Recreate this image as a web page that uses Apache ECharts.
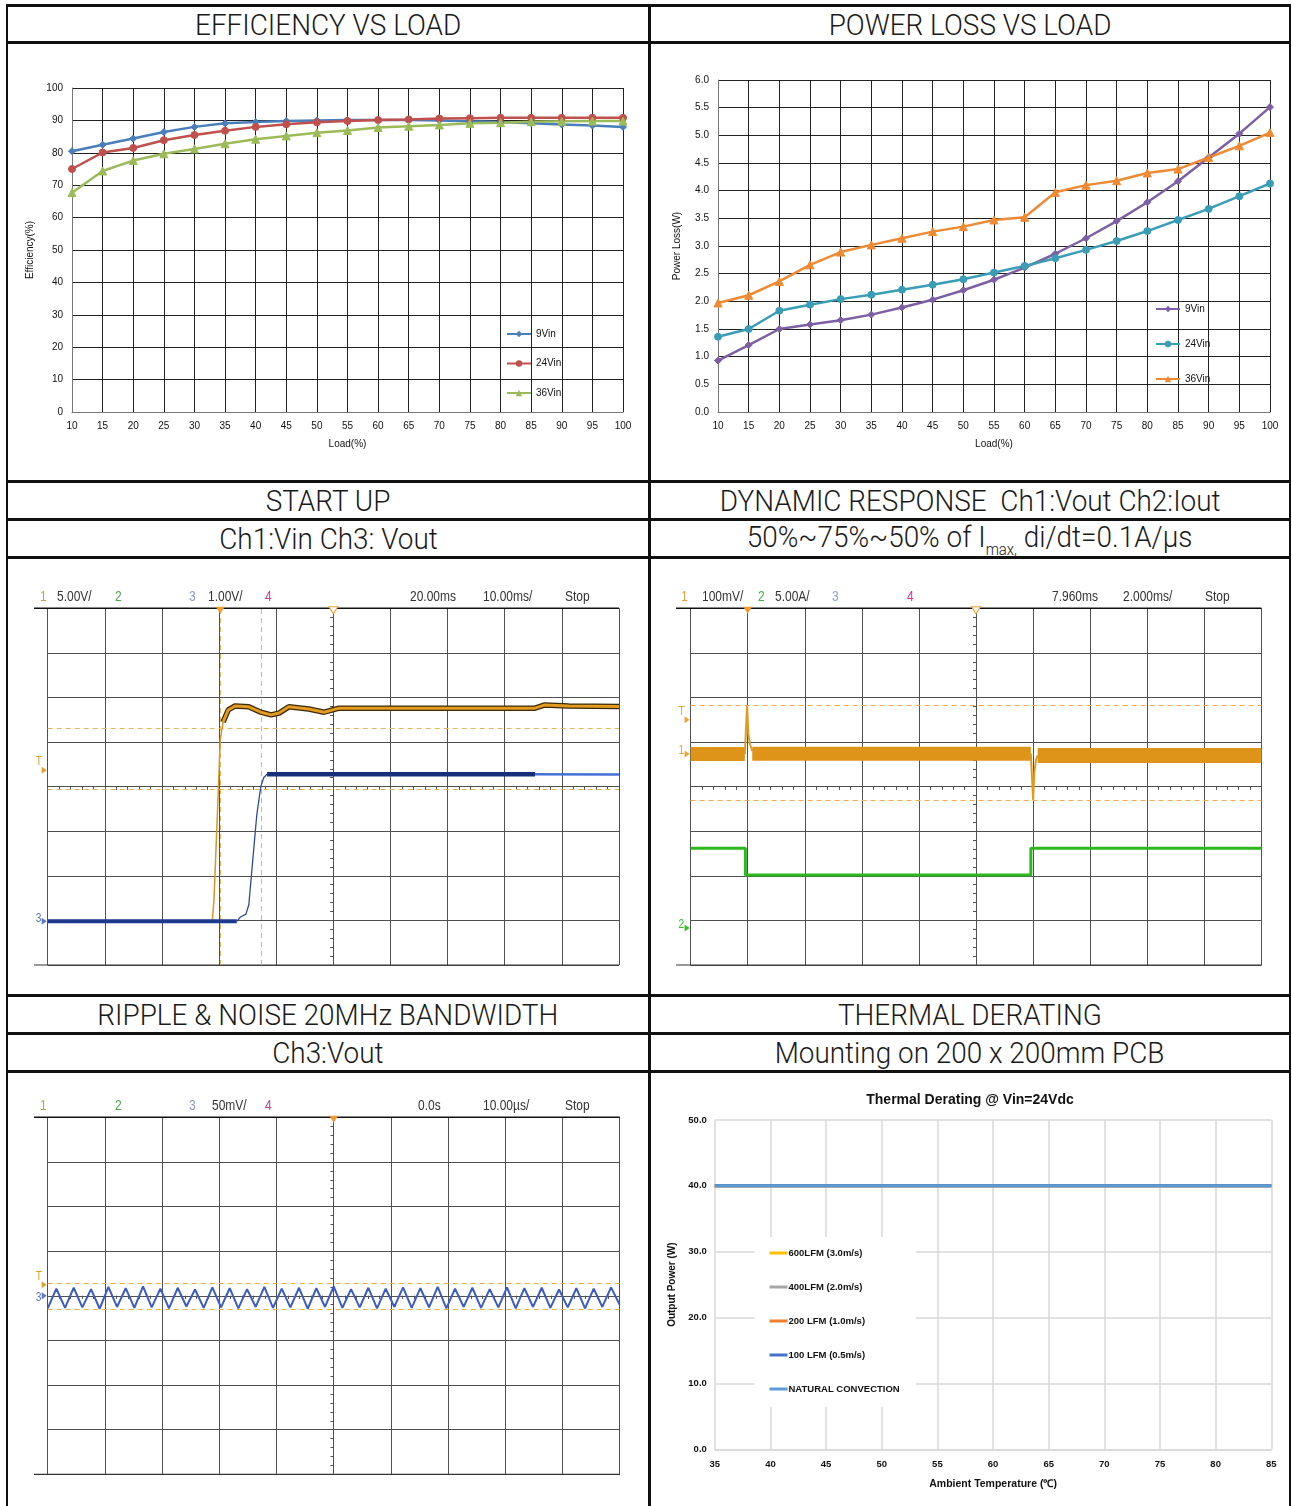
<!DOCTYPE html>
<html><head><meta charset="utf-8">
<script src="https://cdn.jsdelivr.net/npm/echarts@6/dist/echarts.min.js"></script>
<style>
html,body{margin:0;padding:0;background:#fff;}
#page{position:relative;width:1292px;height:1506px;overflow:hidden;background:#fff;}
.ln{position:absolute;background:#111;}
.hdr{position:absolute;display:flex;align-items:center;justify-content:center;font-family:Roboto,"Liberation Sans",sans-serif;font-weight:300;font-size:30px;color:#1a1a1a;white-space:nowrap;}
.hdr span{display:inline-block;transform:scaleX(0.93);transform-origin:50% 50%;}
.hdr sub{font-size:16px;vertical-align:-8px;}
.ch{position:absolute;}
</style></head><body>
<div id="page">
  <div class="ln" style="left:6px;top:4px;width:1285px;height:3px"></div>
  <div class="ln" style="left:6px;top:41px;width:1285px;height:3px"></div>
  <div class="ln" style="left:6px;top:480px;width:1285px;height:3px"></div>
  <div class="ln" style="left:6px;top:518px;width:1285px;height:3px"></div>
  <div class="ln" style="left:6px;top:556px;width:1285px;height:3px"></div>
  <div class="ln" style="left:6px;top:994px;width:1285px;height:3px"></div>
  <div class="ln" style="left:6px;top:1032px;width:1285px;height:3px"></div>
  <div class="ln" style="left:6px;top:1070px;width:1285px;height:3px"></div>
  <div class="ln" style="left:6px;top:4px;width:2px;height:1502px"></div>
  <div class="ln" style="left:648px;top:4px;width:3px;height:1502px"></div>
  <div class="ln" style="left:1289px;top:4px;width:2px;height:1502px"></div>

  <div class="hdr" style="left:8px;top:7px;width:640px;height:34px"><span>EFFICIENCY VS LOAD</span></div>
  <div class="hdr" style="left:651px;top:7px;width:638px;height:34px"><span>POWER LOSS VS LOAD</span></div>
  <div class="hdr" style="left:8px;top:483px;width:640px;height:35px"><span>START UP</span></div>
  <div class="hdr" style="left:651px;top:483px;width:638px;height:35px"><span>DYNAMIC RESPONSE&nbsp; Ch1:Vout Ch2:Iout</span></div>
  <div class="hdr" style="left:8px;top:521px;width:640px;height:35px"><span>Ch1:Vin Ch3: Vout</span></div>
  <div class="hdr" style="left:651px;top:521px;width:638px;height:35px"><span>50%~75%~50% of I<sub>max,</sub> di/dt=0.1A/μs</span></div>
  <div class="hdr" style="left:8px;top:997px;width:640px;height:35px"><span>RIPPLE &amp; NOISE 20MHz BANDWIDTH</span></div>
  <div class="hdr" style="left:651px;top:997px;width:638px;height:35px"><span>THERMAL DERATING</span></div>
  <div class="hdr" style="left:8px;top:1035px;width:640px;height:35px"><span>Ch3:Vout</span></div>
  <div class="hdr" style="left:651px;top:1035px;width:638px;height:35px"><span>Mounting on 200 x 200mm PCB</span></div>

  <div class="ch" id="c1" style="left:8px;top:44px;width:640px;height:436px"></div>
  <div class="ch" id="c2" style="left:651px;top:44px;width:638px;height:436px"></div>
  <div class="ch" id="c3" style="left:8px;top:559px;width:640px;height:435px"></div>
  <div class="ch" id="c4" style="left:651px;top:559px;width:638px;height:435px"></div>
  <div class="ch" id="c5" style="left:8px;top:1073px;width:640px;height:433px"></div>
  <div class="ch" id="c6" style="left:651px;top:1073px;width:638px;height:433px"></div>
</div>
<script>
// ---------------- DATA ----------------
const loadPct = [10,15,20,25,30,35,40,45,50,55,60,65,70,75,80,85,90,95,100];
const eff9Vin  = [80.5,82.5,84.4,86.4,88.0,89.1,89.5,89.8,90.0,90.1,90.1,90.1,90.0,89.7,89.5,89.1,88.7,88.4,88.0];
const eff24Vin = [75.0,80.1,81.5,83.9,85.5,86.8,88.0,88.8,89.4,89.8,90.1,90.3,90.6,90.7,90.8,90.8,90.8,90.8,90.8];
const eff36Vin = [67.7,74.4,77.6,79.7,81.2,82.8,84.2,85.2,86.2,86.9,87.8,88.2,88.6,89.1,89.3,89.6,89.7,89.8,89.8];

const loss9Vin  = [0.93,1.21,1.50,1.58,1.66,1.76,1.89,2.03,2.20,2.39,2.61,2.86,3.14,3.45,3.79,4.17,4.60,5.03,5.51];
const loss24Vin = [1.36,1.50,1.83,1.94,2.04,2.12,2.21,2.30,2.40,2.52,2.64,2.78,2.93,3.09,3.27,3.47,3.67,3.90,4.13];
const loss36Vin = [1.97,2.11,2.36,2.66,2.89,3.02,3.14,3.26,3.35,3.47,3.52,3.97,4.10,4.18,4.32,4.39,4.60,4.81,5.05];

// Start-up scope traces (x, y in screen divisions from centre)
const suCh1Rise = [[-5,-3.02],[-2.12,-3.02],[-2.09,-2.55],[-2.02,-0.30],[-1.98,1.05],[-1.93,1.45]];
const suCh1High = [[-1.93,1.45],[-1.84,1.72],[-1.72,1.81],[-1.48,1.79],[-1.27,1.67],[-1.09,1.61],[-0.95,1.65],[-0.78,1.79],[-0.43,1.74],[-0.16,1.67],[0.10,1.76],[1.15,1.76],[3.53,1.76],[3.69,1.83],[4.12,1.81],[5,1.80]];
const suCh3Low  = [[-5,-3.02],[-1.69,-3.02]];
const suCh3Ramp = [[-1.69,-3.02],[-1.63,-2.93],[-1.53,-2.86],[-1.48,-2.65],[-1.41,-1.64],[-1.34,-0.63],[-1.27,0.0],[-1.22,0.20],[-1.16,0.28]];
const suCh3High = [[-1.16,0.28],[3.53,0.28]];
const suCh3Tail = [[3.53,0.28],[5,0.27]];
const suCursorX = [-1.98,-1.27];
const suCursorY = [1.32,-0.06];
const suTrigger = -1.98;
const suHeader = [['1',32,'#C8A040'],['5.00V/',49,'#333'],['2',107,'#4CA64C'],['3',181,'#8A9AC0'],['1.00V/',200,'#333'],['4',257,'#C0409A'],['20.00ms',402,'#333'],['10.00ms/',475,'#333'],['Stop',557,'#333']];

// Dynamic response traces
const drCh1A   = [[-5,0.73],[-4.05,0.73]];
const drSpike  = [[-4.05,0.73],[-4.03,1.30],[-4.01,1.82],[-3.99,1.20],[-3.96,0.95],[-3.92,0.80]];
const drCh1B   = [[-3.92,0.74],[0.96,0.74]];
const drDip    = [[0.96,0.74],[0.98,0.20],[1.00,-0.30],[1.02,0.30],[1.05,0.60],[1.08,0.70]];
const drCh1C   = [[1.08,0.70],[5,0.70]];
const drCh2    = [[-5,-1.38],[-4.04,-1.38],[-4.04,-1.98],[0.96,-1.98],[0.96,-1.38],[5,-1.38]];
const drCursorY = [1.82,-0.30];
const drTrigger = -4.0;
const drHeader = [['1',30,'#F0A040'],['100mV/',51,'#333'],['2',107,'#3CB83C'],['5.00A/',124,'#333'],['3',181,'#8AA0E0'],['4',256,'#E0309A'],['7.960ms',401,'#333'],['2.000ms/',472,'#333'],['Stop',554,'#333']];

// Ripple trace (alternating troughs / peaks across the screen, divisions)
const rippleCh3 = [-0.28,0.16,-0.27,0.18,-0.26,0.15,-0.29,0.20,-0.25,0.17,-0.27,0.21,-0.26,0.16,-0.28,0.18,-0.24,0.14,-0.27,0.19,-0.26,0.17,-0.28,0.15,-0.25,0.20,-0.27,0.16,-0.26,0.18,-0.29,0.17,-0.25,0.21,-0.27,0.15,-0.26,0.18,-0.28,0.16,-0.25,0.19,-0.27,0.17,-0.26,0.20,-0.28,0.16,-0.25,0.18,-0.27,0.15,-0.26,0.19,-0.28,0.17,-0.25,0.18,-0.27,0.14,-0.26,0.17,-0.28,0.16,-0.25,0.19,-0.20];
const rpCursorY = [0.28,-0.30];
const rpTrigger = 0;
const rpHeader = [['1',32,'#C8A040'],['2',107,'#4CA64C'],['3',181,'#8A9AC0'],['50mV/',204,'#333'],['4',257,'#C0409A'],['0.0s',410,'#333'],['10.00µs/',475,'#333'],['Stop',557,'#333']];

// Thermal derating
const tempC = [35,40,45,50,55,60,65,70,75,80,85];
const p600LFM = [40,40,40,40,40,40,40,40,40,40,40];
const p400LFM = [40,40,40,40,40,40,40,40,40,40,40];
const p200LFM = [40,40,40,40,40,40,40,40,40,40,40];
const p100LFM = [40,40,40,40,40,40,40,40,40,40,40];
const pNatural = [40,40,40,40,40,40,40,40,40,40,40];

// ---------------- EXCEL-STYLE CHARTS ----------------
const XF = '"Liberation Sans", Arial, sans-serif';
function excelChart(el, opt) {
  const c = echarts.init(document.getElementById(el), null, {renderer:'canvas'});
  c.setOption(opt);
  return c;
}
function lineSeries(name, data, color, symbol, size) {
  return {name, type:'line', data, symbol, symbolSize:size, showSymbol:true,
    lineStyle:{color, width:2.5}, itemStyle:{color, borderColor:color}, z:3};
}
function excelAxes(yMin, yMax, yInt, yName, yGap, fmt) {
  return {
    xAxis:{type:'category', data:loadPct, boundaryGap:false,
      axisLine:{show:true, lineStyle:{color:'#777'}}, axisTick:{show:false},
      axisLabel:{color:'#111', fontSize:10, margin:9, fontFamily:XF},
      splitLine:{show:true, lineStyle:{color:'#222', width:1}},
      name:'Load(%)', nameLocation:'middle', nameGap:27,
      nameTextStyle:{fontSize:10, color:'#111', fontFamily:XF}},
    yAxis:{type:'value', min:yMin, max:yMax, interval:yInt,
      axisLine:{show:true, lineStyle:{color:'#777'}}, axisTick:{show:false},
      axisLabel:{color:'#111', fontSize:10, margin:9, fontFamily:XF, formatter:fmt},
      splitLine:{show:true, lineStyle:{color:'#222', width:1}},
      name:yName, nameLocation:'middle', nameGap:yGap,
      nameTextStyle:{fontSize:10, color:'#111', fontFamily:XF}}
  };
}

excelChart('c1', Object.assign({
  animation:false,
  grid:{left:64, top:44, width:551, height:324, outerBoundsMode:'none'},
  legend:{orient:'vertical', left:493, top:280, itemWidth:24, itemHeight:8, itemGap:19.5,
    textStyle:{fontSize:10, color:'#111', fontFamily:XF}, data:['9Vin','24Vin','36Vin']},
  series:[
    lineSeries('9Vin', eff9Vin, '#4A7EBB', 'diamond', 7),
    lineSeries('24Vin', eff24Vin, '#C0504D', 'circle', 7),
    lineSeries('36Vin', eff36Vin, '#9BBB59', 'triangle', 8)
  ]
}, excelAxes(0, 100, 10, 'Efficiency(%)', 32, v => v)));

excelChart('c2', Object.assign({
  animation:false,
  grid:{left:67, top:36, width:552, height:332, outerBoundsMode:'none'},
  legend:{orient:'vertical', left:499, top:255, itemWidth:24, itemHeight:8, itemGap:25,
    textStyle:{fontSize:10, color:'#111', fontFamily:XF}, data:['9Vin','24Vin','36Vin']},
  series:[
    lineSeries('9Vin', loss9Vin, '#7D5FA3', 'diamond', 7),
    lineSeries('24Vin', loss24Vin, '#3A9DB6', 'circle', 7),
    lineSeries('36Vin', loss36Vin, '#EE8A34', 'triangle', 8)
  ]
}, excelAxes(0, 6, 0.5, 'Power Loss(W)', 36, v => v.toFixed(1))));

// ---------------- SCOPE CHARTS ----------------
const GRIDC = '#505050';
const SF = '"Liberation Sans", sans-serif';
function scopeBase(g, catLen) {
  const idx = [];
  for (let i = 0; i < catLen; i++) idx.push(String(i));
  return {
    animation:false,
    grid:{left:g.left, top:g.top, width:g.w, height:g.h, show:false, outerBoundsMode:'none'},
    xAxis:[
      {type:'value', min:-5, max:5, interval:1, axisLabel:{show:false}, axisTick:{show:false},
        splitLine:{show:true, lineStyle:{color:GRIDC, width:1}},
        axisLine:{show:true, onZero:true, onZeroAxisIndex:0, lineStyle:{color:GRIDC}},
        minorTick:{show:true, splitNumber:5, length:3, lineStyle:{color:GRIDC}}},
      {type:'value', min:-5, max:5, interval:1, axisLabel:{show:false}, axisTick:{show:false, inside:true},
        splitLine:{show:false},
        axisLine:{show:false, onZero:true, onZeroAxisIndex:0},
        minorTick:{show:true, splitNumber:5, length:3, lineStyle:{color:GRIDC}}},
      {type:'category', data:idx, boundaryGap:false, show:false}
    ],
    yAxis:[
      {type:'value', min:-4, max:4, interval:1, axisLabel:{show:false}, axisTick:{show:false},
        splitLine:{show:true, lineStyle:{color:GRIDC, width:1}},
        axisLine:{show:true, onZero:true, onZeroAxisIndex:0, lineStyle:{color:GRIDC}},
        minorTick:{show:true, splitNumber:5, length:3, lineStyle:{color:GRIDC}}},
      {type:'value', min:-4, max:4, interval:1, axisLabel:{show:false}, axisTick:{show:false, inside:true},
        splitLine:{show:false},
        axisLine:{show:false, onZero:true, onZeroAxisIndex:0},
        minorTick:{show:true, splitNumber:5, length:3, lineStyle:{color:GRIDC}}}
    ]
  };
}
function tr(data, color, width, extra) {
  return Object.assign({type:'line', data, symbol:'none', xAxisIndex:0, yAxisIndex:0,
    lineStyle:{color, width}, silent:true, z:5}, extra || {});
}
function cursorLines(xs, ys, color) {
  const d = [];
  xs.forEach(v => d.push({xAxis:v}));
  ys.forEach(v => d.push({yAxis:v}));
  return {symbol:'none', silent:true, label:{show:false}, animation:false,
    lineStyle:{type:[5,4], color, width:1}, data:d};
}
function triggerMarks(tx, color) {
  return {silent:true, animation:false, label:{show:false}, data:[
    {coord:[tx, 4], symbol:'triangle', symbolRotate:180, symbolSize:[9,7], symbolOffset:[0,2],
      itemStyle:{color}},
    {coord:[0, 4], symbol:'triangle', symbolRotate:180, symbolSize:[9,7], symbolOffset:[0,2],
      itemStyle:{color:'#fff', borderColor:color, borderWidth:1}}
  ]};
}
function scopeGraphics(chart, g, header, headerY, frameLeft, markers) {
  const gr = [];
  header.forEach(h => gr.push({type:'text', x:h[1], y:headerY, scaleX:0.8,
    style:{text:h[0], fill:h[2], font:'15px ' + SF, verticalAlign:'middle'}}));
  gr.push({type:'line', shape:{x1:frameLeft, y1:g.top, x2:g.left + g.w, y2:g.top}, style:{stroke:'#111', lineWidth:1.5}});
  gr.push({type:'line', shape:{x1:frameLeft, y1:g.top + g.h, x2:g.left + g.w, y2:g.top + g.h}, style:{stroke:'#333', lineWidth:1.2}});
  markers.forEach(m => {
    const p = chart.convertToPixel({xAxisIndex:0, yAxisIndex:0}, [-5, m.y]);
    gr.push({type:'text', x:p[0] - 12, y:p[1] + (m.dy || 0), scaleX:0.85,
      style:{text:m.t, fill:m.c, font:'12px ' + SF, verticalAlign:'middle'}});
    gr.push({type:'polygon', shape:{points:[[p[0]-6, p[1]-3.5],[p[0]-1, p[1]],[p[0]-6, p[1]+3.5]]}, style:{fill:m.c}});
  });
  chart.setOption({graphic:gr});
}

// Start-up
(function(){
  const g = {left:39.7, top:49.3, w:571.3, h:356.7};
  const c = echarts.init(document.getElementById('c3'));
  const o = scopeBase(g, 2);
  o.series = [
    tr(suCh1Rise, '#D99526', 1.5),
    tr(suCh1High, '#3A2A0A', 5.5),
    tr(suCh1High, '#E39A21', 3, {markLine:cursorLines(suCursorX, suCursorY, '#E3B45A'), markPoint:triggerMarks(suTrigger, '#F0A030')}),
    tr(suCh3Low, '#1E3A8F', 4),
    tr(suCh3Ramp, '#2A4A9F', 1.3),
    tr(suCh3High, '#172F7A', 4.5),
    tr(suCh3Tail, '#4470D8', 2.5)
  ];
  c.setOption(o);
  scopeGraphics(c, g, suHeader, 38, 26, [
    {y:0.37, t:'T', c:'#E0A030', dy:-8},
    {y:-3.02, t:'3', c:'#5A78C8', dy:-3}
  ]);
})();

// Dynamic response
(function(){
  const g = {left:39.6, top:49.3, w:570.9, h:356.7};
  const c = echarts.init(document.getElementById('c4'));
  const o = scopeBase(g, 2);
  o.series = [
    tr(drCh1A, '#DE9419', 14),
    tr(drCh1B, '#DE9419', 14, {markLine:cursorLines([], drCursorY, '#F5A94A'), markPoint:triggerMarks(drTrigger, '#F09A30')}),
    tr(drCh1C, '#DE9419', 15),
    tr(drSpike, '#E09A20', 2),
    tr(drDip, '#E09A20', 2),
    tr(drCh2, '#2DB81E', 3)
  ];
  c.setOption(o);
  scopeGraphics(c, g, drHeader, 38, 25, [
    {y:1.5, t:'T', c:'#F0A030', dy:-8},
    {y:0.73, t:'1', c:'#F0A030', dy:-3},
    {y:-3.17, t:'2', c:'#30C020', dy:-3}
  ]);
})();

// Ripple
(function(){
  const g = {left:39.7, top:44.3, w:572, h:357};
  const c = echarts.init(document.getElementById('c5'));
  const o = scopeBase(g, rippleCh3.length);
  o.series = [
    tr(rippleCh3, '#3B5CC4', 2, {xAxisIndex:2, markLine:cursorLines([], rpCursorY, '#E8B040')}),
    tr([[rpTrigger, 4]], '#F09A30', 0, {markPoint:{silent:true, animation:false, label:{show:false}, data:[
      {coord:[rpTrigger, 4], symbol:'triangle', symbolRotate:180, symbolSize:[9,7], symbolOffset:[0,2], itemStyle:{color:'#F09A30'}}]}})
  ];
  c.setOption(o);
  scopeGraphics(c, g, rpHeader, 33, 26, [
    {y:0.25, t:'T', c:'#E0A030', dy:-8},
    {y:0.0, t:'3', c:'#5A78C8', dy:2}
  ]);
})();

// ---------------- THERMAL DERATING ----------------
(function(){
  const NF = '"Liberation Sans", Arial, sans-serif';
  const c = echarts.init(document.getElementById('c6'));
  const ser = (name, data, color) => ({name, type:'line', data, symbol:'none',
    lineStyle:{color, width:3}, itemStyle:{color}, silent:true});
  c.setOption({
    animation:false,
    title:{text:'Thermal Derating @ Vin=24Vdc', left:'center', top:15,
      textStyle:{fontFamily:NF, fontSize:14, fontWeight:'bold', color:'#111'}},
    grid:{left:63.8, top:47, width:556.5, height:329.3, outerBoundsMode:'none'},
    legend:{orient:'vertical', left:103.5, top:164, backgroundColor:'#fff',
      padding:[11,16,13,15], icon:'rect', itemWidth:18, itemHeight:3, itemGap:24,
      textStyle:{fontFamily:NF, fontSize:9.5, fontWeight:'bold', color:'#111', padding:[0,0,0,-4]},
      data:['600LFM (3.0m/s)','400LFM (2.0m/s)','200 LFM (1.0m/s)','100 LFM (0.5m/s)','NATURAL CONVECTION']},
    xAxis:{type:'category', data:tempC, boundaryGap:false,
      axisLine:{show:true, lineStyle:{color:'#D9D9D9', width:1.5}}, axisTick:{show:false},
      axisLabel:{fontFamily:NF, fontSize:9.5, fontWeight:'bold', color:'#111', margin:10},
      splitLine:{show:true, lineStyle:{color:'#D9D9D9', width:1.5}},
      name:'Ambient Temperature (℃)', nameLocation:'middle', nameGap:29,
      nameTextStyle:{fontFamily:NF, fontSize:10.5, fontWeight:'bold', color:'#111'}},
    yAxis:{type:'value', min:0, max:50, interval:10,
      axisLine:{show:false}, axisTick:{show:false},
      axisLabel:{fontFamily:NF, fontSize:9.5, fontWeight:'bold', color:'#111', margin:8, formatter:v => v.toFixed(1)},
      splitLine:{show:true, lineStyle:{color:'#D9D9D9', width:1.5}},
      name:'Output Power (W)', nameLocation:'middle', nameGap:38,
      nameTextStyle:{fontFamily:NF, fontSize:10, fontWeight:'bold', color:'#111'}},
    series:[
      ser('600LFM (3.0m/s)', p600LFM, '#FFC000'),
      ser('400LFM (2.0m/s)', p400LFM, '#A5A5A5'),
      ser('200 LFM (1.0m/s)', p200LFM, '#ED7D31'),
      ser('100 LFM (0.5m/s)', p100LFM, '#4472C4'),
      ser('NATURAL CONVECTION', pNatural, '#5B9BD5')
    ]
  });
})();
</script>
</body></html>
